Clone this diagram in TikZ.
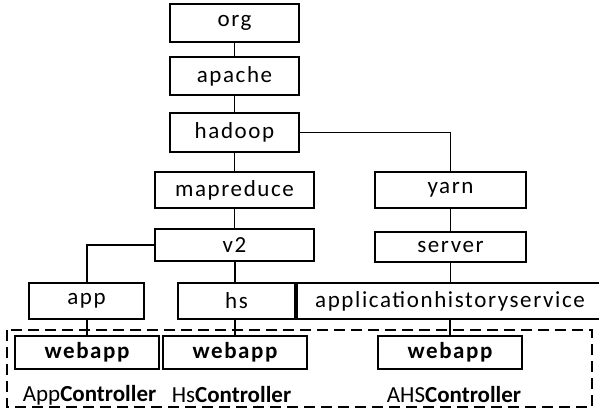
\documentclass[tikz,border=0pt]{standalone}
\usepackage{fontspec}
\setmainfont{Carlito}[LetterSpace=7]
\newfontfamily\lblfont{Carlito}
\begin{document}
\begin{tikzpicture}[x=1pt,y=-1pt,
  box/.style={draw,line width=1.9pt,inner sep=0pt,font=\fontsize{23}{27}\selectfont},
  wbox/.style={box,minimum width=144pt,minimum height=33pt,font=\fontsize{23}{27}\selectfont\bfseries},
  lbl/.style={inner sep=0pt,font=\lblfont\fontsize{23}{27}\selectfont},
  conn/.style={line width=1.9pt}]
\clip (0,0) rectangle (599,411);
\node[box,minimum width=129pt,minimum height=38pt] (org) at (234.5,23) {org};
\node[box,minimum width=129pt,minimum height=38pt] (apache) at (234.5,76) {apache};
\node[box,minimum width=129pt,minimum height=39pt] (hadoop) at (234.5,132.5) {hadoop};
\node[box,minimum width=159pt,minimum height=36pt] (mapreduce) at (234.5,190) {mapreduce};
\node[box,minimum width=159pt,minimum height=32pt] (v2) at (234.5,245) {v2};
\node[box,minimum width=151pt,minimum height=36pt] (yarn) at (450.5,190) {yarn};
\node[box,minimum width=151pt,minimum height=30pt] (server) at (450.5,247) {server};
\node[box,minimum width=115pt,minimum height=36pt] (app) at (86.5,301) {app};
\node[box,minimum width=117pt,minimum height=36pt] (hs) at (236.5,301) {hs};
\node[box,minimum width=306pt,minimum height=36pt] (ahs) at (450,301) {applicationhistoryservice};
\node[wbox] (w1) at (87,352.5) {webapp};
\node[wbox] (w2) at (235,352.5) {webapp};
\node[wbox] (w3) at (450,352.5) {webapp};
\node[lbl] (l1) at (89.5,395) {App\textbf{Controller}};
\node[lbl] (l2) at (231.5,395) {Hs\textbf{Controller}};
\node[lbl] (l3) at (454,395) {AHS\textbf{Controller}};
\coordinate (tl) at (7,330);
\coordinate (br) at (592,407);
\draw[line width=1.6pt,dash pattern=on 11pt off 6pt] (tl) rectangle (br);
\draw[conn] (org) -- (apache);
\draw[conn] (apache) -- (hadoop);
\draw[conn] (hadoop) -- (mapreduce);
\draw[conn] (mapreduce) -- (v2);
\draw[conn] (hadoop.east) -| (yarn.north);
\draw[conn] (yarn) -- (server);
\draw[conn] (server.south) -- (server.south |- ahs.north);
\draw[conn] (v2.west) -| (w1.center |- app.north);
\draw[conn] (v2.south -| w2.center) -- (w2.center |- hs.north);
\draw[conn] (w1.center |- app.south) -- (w1.north);
\draw[conn] (w2.center |- hs.south) -- (w2.north);
\draw[conn] (w3.center |- ahs.south) -- (w3.north);
\end{tikzpicture}
\end{document}
